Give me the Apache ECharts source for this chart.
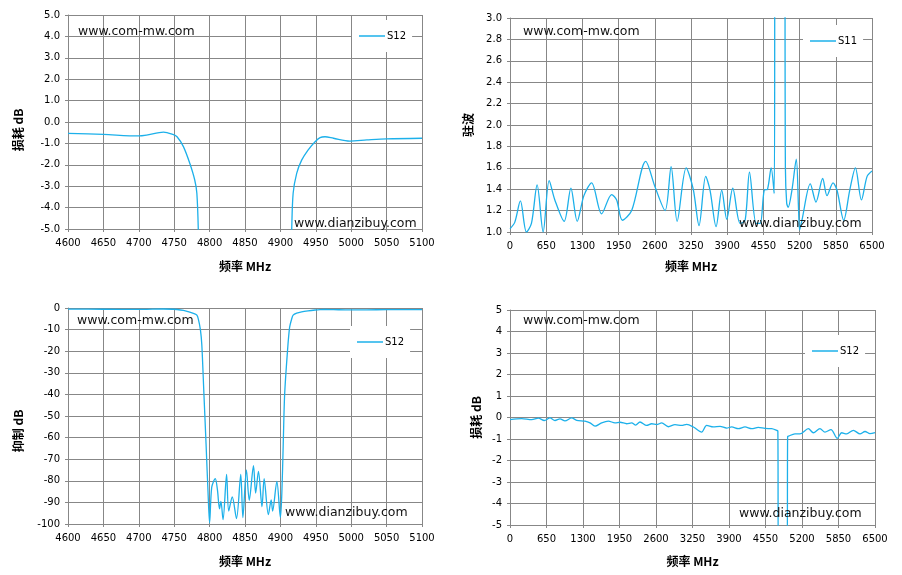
<!DOCTYPE html>
<html>
<head>
<meta charset="utf-8">
<script src="https://cdn.jsdelivr.net/npm/echarts@6/dist/echarts.min.js"></script>
<style>
html, body { margin: 0; padding: 0; background: #fff; }
#main { width: 902px; height: 575px; }
</style>
</head>
<body>
<div id="main"></div>
<script>
/************* 滤波器测试曲线 **************/

// 窄带 S12（上左 / 下左共用）
var nbFreq = [4600, 4650, 4700, 4711, 4735, 4748, 4754, 4763, 4772, 4779, 4782, 4784, 4787, 4789, 4792, 4795, 4798, 4800,
    4803, 4808, 4811, 4814, 4816, 4819, 4824, 4827, 4832, 4838, 4844, 4847, 4852, 4856, 4862, 4865, 4869, 4874, 4877,
    4883, 4887, 4889, 4895, 4900, 4902, 4904, 4906, 4910, 4913, 4916, 4918, 4923, 4930, 4939, 4949, 4956, 4963, 4975,
    4998, 5022, 5050, 5100];
var nbLoss = [-0.53, -0.58, -0.65, -0.61, -0.47, -0.58, -0.69, -1.15, -1.93, -2.71, -3.33, -5.0, -10, -17, -40, -63, -87, -99.5,
    -83, -79, -84, -93, -89.5, -98, -77, -94, -87.5, -97.5, -77, -97, -75, -89, -73, -85.7, -75.7, -92, -79,
    -95.7, -88.8, -94, -80.3, -97, -86, -63, -40, -20, -9, -5.0, -3.33, -2.4, -1.78, -1.31, -0.92, -0.73, -0.69, -0.76,
    -0.89, -0.84, -0.79, -0.76];

// 宽带驻波 S11
var s11Freq = [0, 85, 187, 295, 385, 487, 595, 703, 805, 973, 1093, 1207, 1327, 1465, 1645, 1825, 1915, 2017, 2185, 2437,
    2605, 2785, 2893, 3001, 3163, 3290, 3394, 3514, 3592, 3700, 3802, 3892, 4000, 4132, 4222, 4300, 4420, 4492, 4564,
    4624, 4689, 4743, 4763, 4840, 4925, 4945, 4968, 4995, 5062, 5140, 5182, 5200, 5242, 5392, 5494, 5614, 5692, 5800,
    5872, 5992, 6100, 6202, 6310, 6412, 6500];
var s11Vswr = [1.03, 1.09, 1.29, 1.0, 1.08, 1.44, 1.0, 1.48, 1.30, 1.10, 1.41, 1.10, 1.34, 1.46, 1.17, 1.35, 1.30, 1.11, 1.20, 1.66,
    1.42, 1.20, 1.61, 1.10, 1.60, 1.40, 1.06, 1.52, 1.39, 1.05, 1.39, 1.12, 1.41, 1.08, 1.11, 1.56, 1.08, 1.08, 1.39,
    1.40, 1.60, 1.36, 4.5, 4.5, 4.5, 1.6, 1.27, 1.23, 1.39, 1.68, 1.20, 1.02, 1.11, 1.45, 1.28, 1.50, 1.34, 1.46,
    1.39, 1.11, 1.39, 1.60, 1.30, 1.52, 1.57];

// 宽带 S12
var wbFreq = [0, 208, 386, 505, 611, 712, 801, 890, 979, 1098, 1187, 1336, 1425, 1514, 1632, 1751, 1870, 1959, 2078, 2167,
    2238, 2315, 2434, 2523, 2612, 2701, 2820, 2938, 3057, 3146, 3265, 3413, 3502, 3621, 3740, 3858, 3947, 4066, 4185,
    4303, 4422, 4541, 4660, 4749, 4770, 4778, 4850, 4936, 4944, 4957, 5075, 5164, 5313, 5402, 5520, 5609, 5716, 5829,
    5906, 5995, 6114, 6233, 6322, 6411, 6500];
var wbLoss = [-0.10, -0.05, -0.10, -0.03, -0.14, -0.02, -0.14, -0.06, -0.16, -0.02, -0.13, -0.17, -0.25, -0.40, -0.25, -0.17, -0.25, -0.22, -0.29, -0.25,
    -0.35, -0.21, -0.37, -0.29, -0.33, -0.25, -0.43, -0.33, -0.37, -0.32, -0.44, -0.68, -0.37, -0.44, -0.41, -0.49, -0.44, -0.52, -0.44,
    -0.52, -0.46, -0.51, -0.52, -0.60, -0.63, -6, -6, -6, -0.9, -0.87, -0.76, -0.76, -0.52, -0.71, -0.52, -0.68, -0.56, -0.97,
    -0.71, -0.76, -0.60, -0.76, -0.65, -0.75, -0.70];

var narrowTicks = [4600, 5100, 50];
var wideTicks = [0, 6500, 650];

function pairs(xs, ys) {
    return xs.map(function (x, i) { return [x, ys[i]]; });
}

var lineColor = '#1cb0ea';
var gridColor = '#878787';
var labelFont = 'DejaVu Sans';
var titleFont = 'Noto Sans CJK SC';

function xAxisOf(idx, t, gap) {
    return {
        gridIndex: idx,
        type: 'value',
        min: t[0], max: t[1], interval: t[2],
        name: '频率 MHz',
        nameLocation: 'middle',
        nameGap: gap,
        nameTextStyle: { color: '#000', fontFamily: titleFont, fontWeight: 'bold', fontSize: 12 },
        axisLine: { show: true, onZero: false, lineStyle: { color: gridColor, width: 1 } },
        axisTick: { show: true, length: 3, lineStyle: { color: gridColor } },
        axisLabel: {
            color: '#000', fontFamily: labelFont, fontSize: 10, margin: 9,
            formatter: function (v) { return String(v); }
        },
        splitLine: { show: true, lineStyle: { color: gridColor, width: 1 } }
    };
}

// shift: 标题向下偏移的像素
function yAxisOf(idx, min, max, step, name, gap, digits, shift) {
    return {
        gridIndex: idx,
        type: 'value',
        min: min, max: max, interval: step,
        name: name,
        nameLocation: 'middle',
        nameGap: gap,
        nameTextStyle: {
            color: '#000', fontFamily: titleFont, fontWeight: 'bold', fontSize: 12,
            padding: [0, shift * 2, 0, 0]
        },
        axisLine: { show: true, onZero: false, lineStyle: { color: gridColor, width: 1 } },
        axisTick: { show: true, length: 3, lineStyle: { color: gridColor } },
        axisLabel: {
            color: '#000', fontFamily: labelFont, fontSize: 10, margin: 8,
            formatter: function (v) { return v.toFixed(digits); }
        },
        splitLine: { show: true, lineStyle: { color: gridColor, width: 1 } }
    };
}

function legendOf(name, left, top) {
    return {
        data: [name],
        left: left, top: top,
        backgroundColor: '#fff',
        padding: [11, 6, 11, 7],
        icon: 'rect',
        itemWidth: 26, itemHeight: 1.5,
        itemGap: 4,
        textStyle: { color: '#000', fontFamily: labelFont, fontSize: 10, padding: [0, 0, 0, -3] }
    };
}

function lineOf(name, idx, data) {
    return {
        name: name,
        type: 'line',
        xAxisIndex: idx, yAxisIndex: idx,
        smooth: 0.3,
        symbol: 'none',
        clip: true,
        lineStyle: { color: lineColor, width: 1.3 },
        itemStyle: { color: lineColor },
        data: data
    };
}

function mark(text, x, y) {
    return {
        type: 'text', left: x, top: y, z: 100,
        style: { text: text, fill: '#111', font: '12.5px "DejaVu Sans"' }
    };
}

var chart = echarts.init(document.getElementById('main'));

var option = {
    animation: false,
    backgroundColor: '#fff',
    grid: [
        { left: 68, top: 15, width: 354, height: 214 },
        { left: 510, top: 18, width: 362, height: 214 },
        { left: 68, top: 308, width: 354, height: 216 },
        { left: 510, top: 310, width: 365, height: 215 }
    ],
    xAxis: [
        xAxisOf(0, narrowTicks, 31),
        xAxisOf(1, wideTicks, 28),
        xAxisOf(2, narrowTicks, 31),
        xAxisOf(3, wideTicks, 30)
    ],
    yAxis: [
        yAxisOf(0, -5, 5, 1, '损耗 dB', 44, 1, 8),
        yAxisOf(1, 1, 3, 0.2, '驻波', 36, 1, 0),
        yAxisOf(2, -100, 0, 10, '抑制 dB', 44, 0, 15),
        yAxisOf(3, -5, 5, 1, '损耗 dB', 28, 0, 0)
    ],
    legend: [
        legendOf('S12', 352, 20),
        legendOf('S11', 803, 25),
        legendOf('S12', 350, 326),
        legendOf('S12', 805, 335)
    ],
    graphic: [
        mark('www.com-mw.com', 78, 25),
        mark('www.dianzibuy.com', 294, 217),
        mark('www.com-mw.com', 523, 25),
        mark('www.dianzibuy.com', 739, 217),
        mark('www.com-mw.com', 77, 314),
        mark('www.dianzibuy.com', 285, 506),
        mark('www.com-mw.com', 523, 314),
        mark('www.dianzibuy.com', 739, 507)
    ],
    series: [
        lineOf('S12', 0, pairs(nbFreq, nbLoss)),
        lineOf('S11', 1, pairs(s11Freq, s11Vswr)),
        lineOf('S12', 2, pairs(nbFreq, nbLoss)),
        lineOf('S12', 3, pairs(wbFreq, wbLoss))
    ]
};

chart.setOption(option);
</script>
</body>
</html>
